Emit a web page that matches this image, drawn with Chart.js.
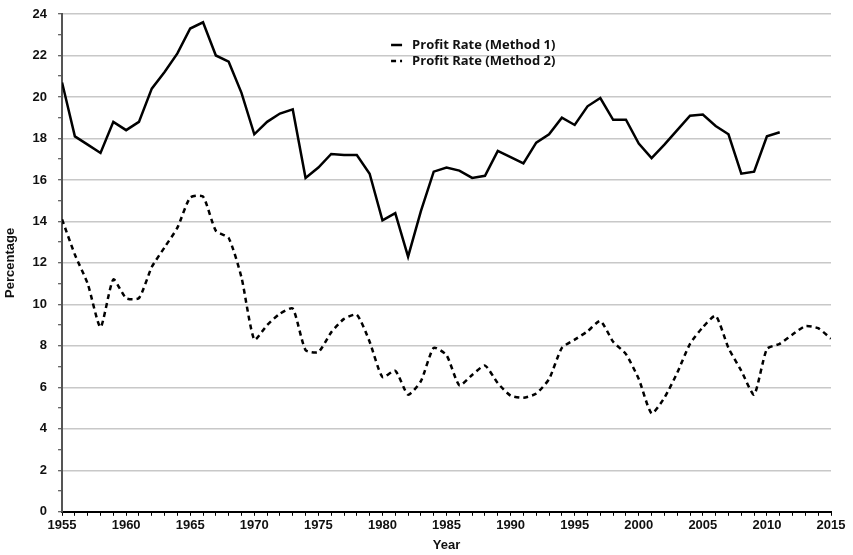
<!DOCTYPE html>
<html>
<head>
<meta charset="utf-8">
<script src="https://cdn.jsdelivr.net/npm/chart.js@4.4.0/dist/chart.umd.min.js"></script>
<style>
    html, body { margin: 0; padding: 0; background: #fff; }
    #wrap { width: 853px; height: 555px; position: relative; }
</style>
</head>
<body>
<div id="wrap"><canvas id="profit-chart"></canvas></div>
<script>
var years = [1955, 1956, 1957, 1958, 1959, 1960, 1961, 1962, 1963, 1964,
    1965, 1966, 1967, 1968, 1969, 1970, 1971, 1972, 1973, 1974,
    1975, 1976, 1977, 1978, 1979, 1980, 1981, 1982, 1983, 1984,
    1985, 1986, 1987, 1988, 1989, 1990, 1991, 1992, 1993, 1994,
    1995, 1996, 1997, 1998, 1999, 2000, 2001, 2002, 2003, 2004,
    2005, 2006, 2007, 2008, 2009, 2010, 2011, 2012, 2013, 2014, 2015];

var method1 = [20.7, 18.1, 17.7, 17.3, 18.8, 18.4, 18.8, 20.4, 21.2, 22.1,
    23.3, 23.6, 22.0, 21.7, 20.2, 18.2, 18.8, 19.2, 19.4, 16.1,
    16.6, 17.25, 17.2, 17.2, 16.3, 14.05, 14.4, 12.3, 14.5, 16.4,
    16.6, 16.45, 16.1, 16.2, 17.4, 17.1, 16.8, 17.8, 18.2, 19.0,
    18.65, 19.55, 19.95, 18.9, 18.9, 17.75, 17.05, 17.7, 18.4, 19.1,
    19.15, 18.6, 18.2, 16.3, 16.4, 18.1, 18.3];

var method2 = [14.1, 12.4, 11.0, 8.9, 11.2, 10.3, 10.3, 11.8, 12.75, 13.7,
    15.15, 15.2, 13.55, 13.2, 11.3, 8.3, 9.0, 9.55, 9.8, 7.8,
    7.7, 8.65, 9.3, 9.5, 8.2, 6.5, 6.8, 5.65, 6.3, 7.9,
    7.55, 6.1, 6.6, 7.05, 6.2, 5.6, 5.5, 5.7, 6.4, 7.9,
    8.3, 8.7, 9.2, 8.2, 7.6, 6.4, 4.75, 5.5, 6.7, 8.1,
    8.9, 9.45, 7.9, 6.8, 5.65, 7.85, 8.1, 8.55, 8.95, 8.85, 8.35];

var seriesLabels = ["Profit Rate (Method 1)", "Profit Rate (Method 2)"];
var yTicks = [0, 2, 4, 6, 8, 10, 12, 14, 16, 18, 20, 22, 24];

function toPoints(values) {
    return values.map(function(v, i) { return { x: years[i], y: v }; });
}

// legend drawn inside the plot area, like the original
var innerLegend = {
    id: "innerLegend",
    afterDraw: function(chart) {
        var ctx = chart.ctx;
        var area = chart.chartArea;
        var x = area.left + 329;
        var y = area.top + 31;
        ctx.save();
        ctx.font = "bold 13px 'Open Sans', Lato, sans-serif";
        ctx.textBaseline = "middle";
        chart.data.datasets.forEach(function(ds, i) {
            var ly = y + i * 16;
            ctx.beginPath();
            ctx.strokeStyle = "#000";
            ctx.lineWidth = 2.5;
            ctx.setLineDash(ds.borderDash || []);
            ctx.moveTo(x, ly);
            ctx.lineTo(x + 11, ly);
            ctx.stroke();
            ctx.setLineDash([]);
            ctx.fillStyle = "#111";
            ctx.fillText(ds.label, x + 21, ly);
        });
        ctx.restore();
    }
};

var ctx = document.getElementById("profit-chart").getContext("2d");
var profitChart = new Chart(ctx, {
    type: "line",
    data: {
        datasets: [{
            label: seriesLabels[0],
            data: toPoints(method1),
            borderColor: "#000",
            borderWidth: 2.5,
            pointRadius: 0,
            tension: 0,
            fill: false
        }, {
            label: seriesLabels[1],
            data: toPoints(method2),
            borderColor: "#000",
            borderWidth: 2.5,
            borderDash: [5, 4],
            pointRadius: 0,
            tension: 0.2,
            fill: false
        }]
    },
    options: {
        responsive: true,
        maintainAspectRatio: false,
        animation: false,
        layout: { padding: { top: 0, right: 22, left: 3, bottom: 2 } },
        plugins: {
            legend: { display: false },
            tooltip: { enabled: false }
        },
        scales: {
            x: {
                type: "linear",
                min: 1955,
                max: 2015,
                ticks: {
                    stepSize: 1,
                    autoSkip: false,
                    maxRotation: 0,
                    padding: 2,
                    color: "#111",
                    font: { family: "'Liberation Sans Narrow', 'Liberation Sans', sans-serif", weight: "bold", size: 13 },
                    callback: function(value) {
                        return value % 5 === 0 ? String(value) : "";
                    }
                },
                grid: {
                    drawOnChartArea: false,
                    tickLength: 4,
                    tickColor: "#000",
                    tickWidth: 1
                },
                border: { color: "#000", width: 2 },
                title: {
                    display: true,
                    text: "Year",
                    color: "#111",
                    padding: { top: 2, bottom: 0 },
                    font: { family: "'Liberation Sans Narrow', 'Liberation Sans', sans-serif", weight: "bold", size: 13 }
                }
            },
            y: {
                min: 0,
                max: 24,
                afterFit: function(scale) {
                    scale.paddingTop = 14;
                },
                ticks: {
                    stepSize: 1,
                    autoSkip: false,
                    padding: 11,
                    color: "#111",
                    font: { family: "'Liberation Sans', Arial, sans-serif", weight: "bold", size: 13 },
                    callback: function(value) {
                        return yTicks.indexOf(value) >= 0 ? String(value) : "";
                    }
                },
                grid: {
                    color: function(c) {
                        return c.tick && yTicks.indexOf(c.tick.value) > 0 ? "#c8c8c8" : "rgba(0,0,0,0)";
                    },
                    lineWidth: 1.5,
                    tickLength: 4,
                    tickColor: "#333",
                    tickWidth: 1
                },
                border: { color: "#555", width: 2 },
                title: {
                    display: true,
                    text: "Percentage",
                    color: "#111",
                    padding: { top: 0, bottom: 3 },
                    font: { family: "'Liberation Sans Narrow', 'Liberation Sans', sans-serif", weight: "bold", size: 13 }
                }
            }
        }
    },
    plugins: [innerLegend]
});
</script>
</body>
</html>
